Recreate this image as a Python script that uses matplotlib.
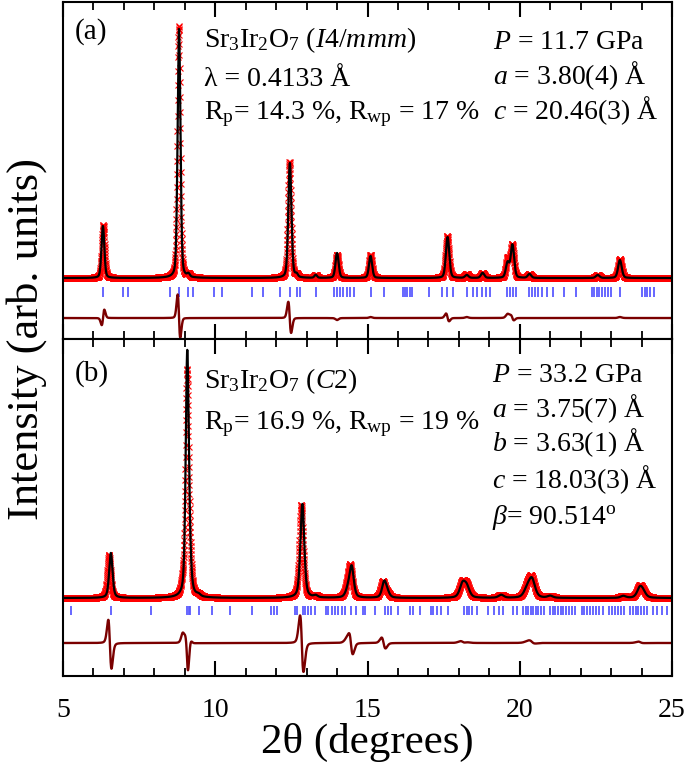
import numpy as np
import matplotlib
matplotlib.use('Agg')
import matplotlib.pyplot as plt
from matplotlib.ticker import MultipleLocator

# 2theta grid of the measurement
two_theta = np.arange(5.0, 25.0001, 0.005)

# panel (a) 11.7 GPa, I4/mmm : peaks
a_pos = [6.31, 8.81, 9.12, 12.45, 12.67, 13.30, 14.00, 15.10, 17.63, 18.26, 18.78, 19.60, 19.76, 20.32, 22.56, 23.29]
a_calc = [52, 249, 3, 115, 3, 3, 25, 22, 41, 3, 5, 15, 33, 4, 3, 18]
a_obs = [53, 252, 3, 116, 3, 3, 23, 23, 42, 4, 5, 19, 33, 4, 3, 19]
a_shift = [0.012, -0.007, 0, -0.012, 0, 0, 0, 0, -0.009, 0, 0, 0, -0.007, 0, 0, 0]
a_fwhm = [0.11, 0.11, 0.10, 0.12, 0.10, 0.10, 0.12, 0.12, 0.13, 0.13, 0.13, 0.13, 0.13, 0.13, 0.14, 0.14]
a_bragg = [6.32, 6.98, 7.12, 8.51, 8.82, 9.12, 9.26, 9.95, 10.21, 11.22, 11.58, 12.13, 12.45, 12.67,
           12.78, 13.30, 13.90, 13.99, 14.10, 14.21, 14.32, 14.43, 14.56, 15.10, 15.55, 16.15, 16.23,
           16.31, 16.39, 16.47, 17.03, 17.44, 17.62, 17.81, 18.26, 18.48, 18.61, 18.75, 18.88, 19.02,
           19.59, 19.68, 19.77, 19.87, 20.31, 20.39, 20.50, 20.61, 20.72, 20.88, 21.10, 21.45, 21.85,
           22.36, 22.44, 22.53, 22.61, 22.69, 22.80, 22.91, 22.99, 23.29, 24.03, 24.11, 24.19, 24.28, 24.42]

# panel (b) 33.2 GPa, C2
b_pos = [6.57, 8.93, 9.08, 9.17, 9.45, 12.86, 13.30, 14.36, 14.48, 15.55, 15.66, 18.12, 18.26, 19.39,
         20.24, 20.40, 21.00, 23.40, 23.95, 24.06]
b_calc = [45, 0, 243, 20, 2, 94, 2, 8, 30, 16, 4, 13, 10, 3, 8, 18, 2, 2, 10, 4]
b_obs = [43, 10, 222, 28, 2, 93, 2, 9, 30, 16, 4, 14, 11, 3, 9, 19, 2, 2, 11, 4]
b_shift = [-0.06, 0, -0.006, 0, 0, -0.035, 0, -0.03, -0.045, -0.045, 0, -0.012, 0, 0, 0, -0.012, 0, 0, -0.01, 0]
b_fwhm = [0.13, 0.12, 0.12, 0.12, 0.15, 0.15, 0.15, 0.18, 0.16, 0.17, 0.17, 0.22, 0.22, 0.20, 0.24,
          0.24, 0.20, 0.20, 0.22, 0.22]
b_bragg = [5.26, 6.58, 7.89, 9.08, 9.13, 9.18, 9.45, 9.88, 10.47, 11.20, 11.83, 11.92, 12.04, 12.62,
           12.69, 12.87, 12.95, 13.03, 13.14, 13.27, 13.64, 13.71, 13.82, 13.93, 14.04, 14.15, 14.26,
           14.46, 14.61, 14.84, 14.92, 15.24, 15.57, 15.68, 15.77, 16.01, 16.38, 16.51, 16.72, 17.07,
           17.16, 17.27, 17.41, 17.63, 18.18, 18.26, 18.33, 18.42, 18.61, 18.97, 19.15, 19.33, 19.46,
           19.79, 19.90, 20.12, 20.21, 20.28, 20.36, 20.45, 20.53, 20.61, 20.70, 20.80, 20.99, 21.08,
           21.17, 21.27, 21.34, 21.43, 21.52, 21.63, 21.71, 21.81, 22.03, 22.11, 22.20, 22.31, 22.39,
           22.49, 22.61, 22.72, 22.94, 23.04, 23.14, 23.24, 23.33, 23.42, 23.62, 23.71, 23.81, 23.89,
           23.98, 24.08, 24.17, 24.37, 24.50, 24.66, 24.83]


def pattern(x, pos, height, fwhm, shift=None, eta=0.3):
    # sum of pseudo-Voigt peaks
    if shift is None:
        shift = [0] * len(pos)
    y = np.zeros_like(x)
    for p, h, w, s in zip(pos, height, fwhm, shift):
        u = (x - p - s) / w
        y += h * ((1 - eta) * np.exp(-4 * np.log(2) * u ** 2) + eta / (1 + 4 * u ** 2))
    return y


plt.rcParams['font.family'] = ['Liberation Serif', 'DejaVu Serif']
plt.rcParams['mathtext.fontset'] = 'custom'
plt.rcParams['mathtext.rm'] = 'Liberation Serif'
plt.rcParams['mathtext.it'] = 'Liberation Serif:italic'

fig = plt.figure(figsize=(6.85, 7.66), dpi=100)
ax1 = fig.add_axes([0.092, 0.5574, 0.889, 0.4400])
ax2 = fig.add_axes([0.092, 0.1175, 0.889, 0.4399])

panels = [
    (ax1, a_pos, a_calc, a_obs, a_shift, a_fwhm, a_bragg, 0.3, (-61, 276), (-19, -9), -40),
    (ax2, b_pos, b_calc, b_obs, b_shift, b_fwhm, b_bragg, 0.45, (-78, 259), (-17, -8), -45),
]

for ax, pos, hc, ho, sh, fw, bragg, eta, ylim, tick_y, diff_off in panels:
    calc = pattern(two_theta, pos, hc, fw, eta=eta)
    obs = pattern(two_theta, pos, ho, fw, sh, eta=eta)
    ax.plot(two_theta, obs, 'x', color='red', ms=5, mew=0.8, zorder=2)
    ax.plot(two_theta, calc, color='black', lw=1.6, zorder=3)
    ax.vlines(bragg, tick_y[0], tick_y[1], color='#5a5aff', lw=1.3, zorder=2)
    ax.plot(two_theta, obs - calc + diff_off, color='#7a0000', lw=1.7, zorder=2)
    ax.set_xlim(5, 25)
    ax.set_ylim(*ylim)
    ax.xaxis.set_major_locator(MultipleLocator(5))
    ax.xaxis.set_minor_locator(MultipleLocator(1))
    ax.tick_params(axis='x', which='both', direction='in', top=True, bottom=True)
    ax.tick_params(axis='x', which='major', length=11, width=1.5, labelsize=20, pad=16)
    ax.tick_params(axis='x', which='minor', length=5.5, width=1.3)
    ax.set_yticks([])
    for sp in ax.spines.values():
        sp.set_linewidth(1.5)

ax1.tick_params(axis='x', which='both', labelbottom=False)

fs = 20
# panel (a) labels
ax1.text(0.020, 0.890, '(a)', transform=ax1.transAxes, fontsize=21, va='baseline')
ax1.text(0.2315, 0.866, 'Sr$_3$Ir$_2$O$_7$ ($\\mathit{I4/mmm}$)', transform=ax1.transAxes, fontsize=fs, va='baseline')
ax1.text(0.2315, 0.752, 'λ = 0.4133 Å', transform=ax1.transAxes, fontsize=fs, va='baseline')
ax1.text(0.2315, 0.653, 'R$_\\mathrm{p}$= 14.3 %, R$_\\mathrm{wp}$ = 17 %', transform=ax1.transAxes, fontsize=fs, va='baseline')
ax1.text(0.706, 0.860, '$P$ = 11.7 GPa', transform=ax1.transAxes, fontsize=fs, va='baseline')
ax1.text(0.706, 0.757, '$a$ = 3.80(4) Å', transform=ax1.transAxes, fontsize=fs, va='baseline')
ax1.text(0.706, 0.653, '$c$ = 20.46(3) Å', transform=ax1.transAxes, fontsize=fs, va='baseline')

# panel (b) labels
ax2.text(0.020, 0.875, '(b)', transform=ax2.transAxes, fontsize=21, va='baseline')
ax2.text(0.2315, 0.855, 'Sr$_3$Ir$_2$O$_7$ ($\\mathit{C2}$)', transform=ax2.transAxes, fontsize=fs, va='baseline')
ax2.text(0.2315, 0.734, 'R$_\\mathrm{p}$= 16.9 %, R$_\\mathrm{wp}$ = 19 %', transform=ax2.transAxes, fontsize=fs, va='baseline')
ax2.text(0.705, 0.873, '$P$ = 33.2 GPa', transform=ax2.transAxes, fontsize=fs, va='baseline')
ax2.text(0.705, 0.769, '$a$ = 3.75(7) Å', transform=ax2.transAxes, fontsize=fs, va='baseline')
ax2.text(0.705, 0.668, '$b$ = 3.63(1) Å', transform=ax2.transAxes, fontsize=fs, va='baseline')
ax2.text(0.705, 0.558, '$c$ = 18.03(3) Å', transform=ax2.transAxes, fontsize=fs, va='baseline')
ax2.text(0.705, 0.451, '$\\beta$= 90.514$^\\mathrm{o}$', transform=ax2.transAxes, fontsize=fs, va='baseline')

ax2.set_xlabel('2θ (degrees)', fontsize=31, labelpad=0)
fig.text(27 / 685, 1 - 339 / 766, 'Intensity (arb. units)', rotation=90, fontsize=32,
         ha='center', va='center')

fig.savefig('out.png', dpi=100)
